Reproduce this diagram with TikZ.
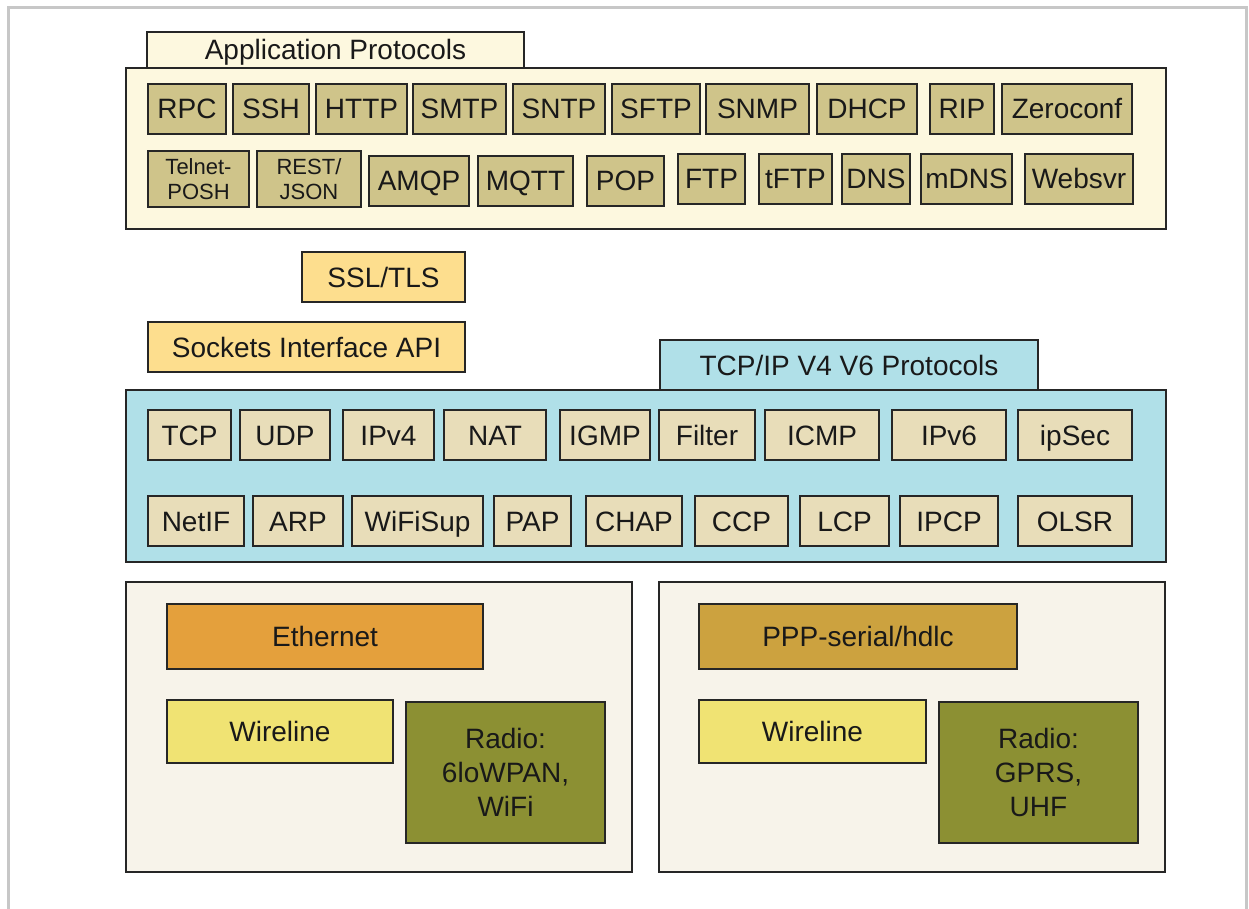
\documentclass[tikz,border=0pt]{standalone}
\usepackage{fontspec}
\setmainfont{Liberation Sans}

\definecolor{appfill}{HTML}{FDF8DF}
\definecolor{appitem}{HTML}{CFC48A}
\definecolor{sockfill}{HTML}{FDDE8E}
\definecolor{tcpfill}{HTML}{B0E0E8}
\definecolor{tcpitem}{HTML}{E8DDB9}
\definecolor{linkfill}{HTML}{F7F3EA}
\definecolor{ethfill}{HTML}{E4A03C}
\definecolor{pppfill}{HTML}{CCA23F}
\definecolor{wirefill}{HTML}{F0E373}
\definecolor{radiofill}{HTML}{8C9033}

\begin{document}
\begin{tikzpicture}[
    x=1pt, y=-1pt,
    box/.style={
        rectangle,
        draw=black!85,
        line width=1.4pt,
        inner sep=0pt,
        align=center,
        text=black!90,
        text height=20pt,
        text depth=0pt,
        font=\fontsize{28}{34}\selectfont
    },
    multi/.style={text height=, text depth=},
    panel/.style={box, line width=1.6pt},
    app/.style={box, fill=appitem, minimum height=50pt},
    small/.style={multi, font=\fontsize{22}{25}\selectfont},
    sock/.style={box, fill=sockfill, minimum height=50pt},
    tcp/.style={box, fill=tcpitem, minimum height=50pt},
    wire/.style={box, fill=wirefill, minimum height=63pt},
    radio/.style={box, multi, fill=radiofill, minimum width=199pt, minimum height=141pt}
]
\useasboundingbox (0,0) rectangle (1249,909);

% Frame
\draw[black!22, line width=3pt] (8,909) -- (8,8) -- (1246,8) -- (1246,909);

% Application Protocols
\node[panel, fill=appfill, minimum width=1040pt, minimum height=161pt] (appbox) at (646,148.5) {};
\node[panel, fill=appfill, minimum width=377pt, minimum height=36pt] (apptab) at (335.5,50) {Application Protocols};

\node[app, minimum width=78pt] (rpc) at (187,109) {RPC};
\node[app, minimum width=76pt] (ssh) at (271,109) {SSH};
\node[app, minimum width=91pt] (http) at (361.5,109) {HTTP};
\node[app, minimum width=93pt] (smtp) at (459.5,109) {SMTP};
\node[app, minimum width=92pt] (sntp) at (559,109) {SNTP};
\node[app, minimum width=88pt] (sftp) at (656,109) {SFTP};
\node[app, minimum width=103pt] (snmp) at (757.5,109) {SNMP};
\node[app, minimum width=100pt] (dhcp) at (867,109) {DHCP};
\node[app, minimum width=64pt] (rip) at (962,109) {RIP};
\node[app, minimum width=130pt] (zeroconf) at (1067,109) {Zeroconf};

\node[app, small, minimum width=101pt, minimum height=56pt] (telnet) at (198.5,179) {Telnet-\\POSH};
\node[app, small, minimum width=104pt, minimum height=56pt] (rest) at (309,179) {REST/\\JSON};
\node[app, minimum width=100pt] (amqp) at (419,181) {AMQP};
\node[app, minimum width=95pt] (mqtt) at (525.5,181) {MQTT};
\node[app, minimum width=77pt] (pop) at (625.5,181) {POP};
\node[app, minimum width=67pt] (ftp) at (711.5,179) {FTP};
\node[app, minimum width=73pt] (tftp) at (795.5,179) {tFTP};
\node[app, minimum width=68pt] (dns) at (876,179) {DNS};
\node[app, minimum width=91pt] (mdns) at (966.5,179) {mDNS};
\node[app, minimum width=108pt] (websvr) at (1079,179) {Websvr};

% SSL and sockets
\node[sock, minimum width=163pt] (ssl) at (383.5,277) {SSL/TLS};
\node[sock, minimum width=317pt] (sockets) at (306.5,347) {Sockets Interface API};

% TCP/IP stack
\node[panel, fill=tcpfill, minimum width=1040pt, minimum height=172pt] (tcpbox) at (646,476) {};
\node[panel, fill=tcpfill, minimum width=378pt, minimum height=50pt] (tcptab) at (849,365) {TCP/IP V4 V6 Protocols};

\node[tcp, minimum width=83pt] (tcpn) at (189.5,435) {TCP};
\node[tcp, minimum width=90pt] (udp) at (285,435) {UDP};
\node[tcp, minimum width=91pt] (ipv4) at (388.5,435) {IPv4};
\node[tcp, minimum width=102pt] (nat) at (495,435) {NAT};
\node[tcp, minimum width=90pt] (igmp) at (605,435) {IGMP};
\node[tcp, minimum width=96pt] (filter) at (707,435) {Filter};
\node[tcp, minimum width=114pt] (icmp) at (822,435) {ICMP};
\node[tcp, minimum width=114pt] (ipv6) at (949,435) {IPv6};
\node[tcp, minimum width=114pt] (ipsec) at (1075,435) {ipSec};

\node[tcp, minimum width=96pt] (netif) at (196,521) {NetIF};
\node[tcp, minimum width=90pt] (arp) at (298,521) {ARP};
\node[tcp, minimum width=131pt] (wifisup) at (417.5,521) {WiFiSup};
\node[tcp, minimum width=77pt] (pap) at (532.5,521) {PAP};
\node[tcp, minimum width=96pt] (chap) at (634,521) {CHAP};
\node[tcp, minimum width=93pt] (ccp) at (741.5,521) {CCP};
\node[tcp, minimum width=89pt] (lcp) at (844.5,521) {LCP};
\node[tcp, minimum width=98pt] (ipcp) at (949,521) {IPCP};
\node[tcp, minimum width=114pt] (olsr) at (1075,521) {OLSR};

% Ethernet side
\node[panel, fill=linkfill, minimum width=506pt, minimum height=290pt] (ethbox) at (379,727) {};
\node[box, fill=ethfill, minimum width=316pt, minimum height=65pt] (ethernet) at (325,636.5) {Ethernet};
\node[wire, minimum width=226pt] (ethwire) at (280,731.5) {Wireline};
\node[radio] (ethradio) at (505.5,772.5) {Radio:\\6loWPAN,\\WiFi};

% Serial side
\node[panel, fill=linkfill, minimum width=506pt, minimum height=290pt] (pppbox) at (912,727) {};
\node[box, fill=pppfill, minimum width=318pt, minimum height=65pt] (ppp) at (858,636.5) {PPP-serial/hdlc};
\node[wire, minimum width=227pt] (pppwire) at (812.5,731.5) {Wireline};
\node[radio] (pppradio) at (1038.5,772.5) {Radio:\\GPRS,\\UHF};

\end{tikzpicture}
\end{document}
